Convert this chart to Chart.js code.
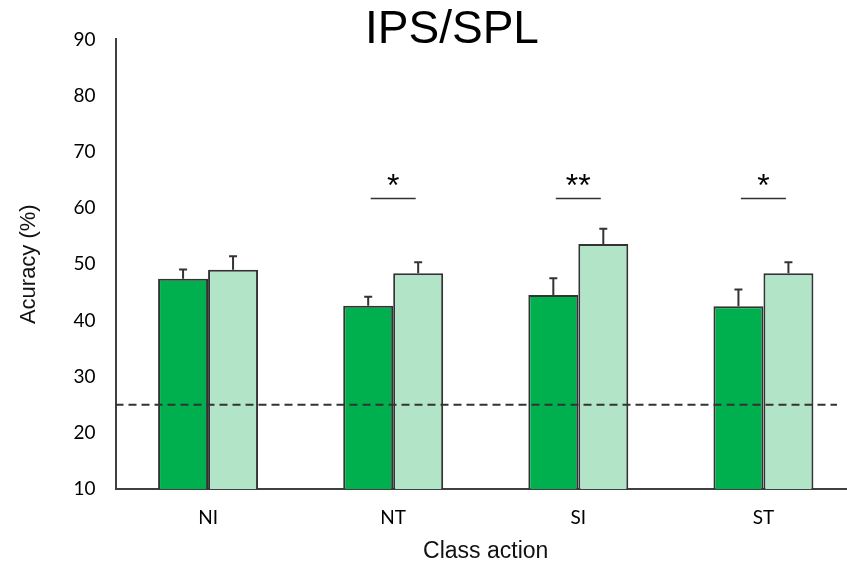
<!DOCTYPE html>
<html>
<head>
<meta charset="utf-8">
<script src="https://cdn.jsdelivr.net/npm/chart.js@4.4.1/dist/chart.umd.min.js"></script>
<style>
  html, body { margin: 0; padding: 0; background: #fff; overflow: hidden; }
  #wrap { width: 856px; height: 568px; }
</style>
</head>
<body>
<div id="wrap"><canvas id="chart" width="856" height="568"></canvas></div>
<script>
// Data
const categories = ['NI', 'NT', 'SI', 'ST'];
const darkValues = [47.4, 42.6, 44.5, 42.5];
const lightValues = [49.0, 48.4, 53.6, 48.4];
const darkErrors = [1.65, 1.6, 3.0, 3.0];
const lightErrors = [2.4, 1.95, 2.7, 1.95];
const significance = ['', '*', '**', '*'];
const sigLevel = 61.7;
const chanceLevel = 25;
const yMin = 10;
const yMax = 90;
const yStep = 10;

const DARK_GREEN = '#00b04f';
const LIGHT_GREEN = '#b2e5c8';
const INK = '#333';

// Error bars, chance line and significance marks
const annotations = {
    id: 'annotations',
    afterDatasetsDraw(chart) {
        const { ctx, chartArea, scales: { x, y } } = chart;
        const errors = [darkErrors, lightErrors];
        ctx.save();

        ctx.strokeStyle = INK;
        ctx.lineWidth = 2;
        chart.data.datasets.forEach((ds, di) => {
            const meta = chart.getDatasetMeta(di);
            meta.data.forEach((bar, i) => {
                const top = y.getPixelForValue(ds.data[i] + errors[di][i]);
                ctx.beginPath();
                ctx.moveTo(bar.x, bar.y);
                ctx.lineTo(bar.x, top);
                ctx.moveTo(bar.x - 4, top);
                ctx.lineTo(bar.x + 4, top);
                ctx.stroke();
            });
        });

        // chance level
        const cy = y.getPixelForValue(chanceLevel);
        ctx.setLineDash([8, 5]);
        ctx.strokeStyle = '#333';
        ctx.lineWidth = 2;
        ctx.beginPath();
        ctx.moveTo(chartArea.left, cy);
        ctx.lineTo(chartArea.right - 19, cy);
        ctx.stroke();
        ctx.setLineDash([]);

        // significance
        const sy = y.getPixelForValue(sigLevel);
        ctx.fillStyle = '#000';
        ctx.strokeStyle = '#333';
        ctx.lineWidth = 1.5;
        ctx.font = '32px "Liberation Sans"';
        ctx.textAlign = 'center';
        ctx.textBaseline = 'alphabetic';
        significance.forEach((mark, i) => {
            if (!mark) return;
            const cx = x.getPixelForValue(i);
            ctx.beginPath();
            ctx.moveTo(cx - 22.5, sy);
            ctx.lineTo(cx + 22.5, sy);
            ctx.stroke();
            ctx.fillText(mark, cx, sy - 2);
        });

        ctx.restore();
    }
};

new Chart(document.getElementById('chart'), {
    type: 'bar',
    data: {
        labels: categories,
        datasets: [{
            label: 'Series 1',
            data: darkValues,
            backgroundColor: DARK_GREEN,
            borderColor: INK,
            borderWidth: 2,
            categoryPercentage: 0.54,
            barPercentage: 1.0
        }, {
            label: 'Series 2',
            data: lightValues,
            backgroundColor: LIGHT_GREEN,
            borderColor: INK,
            borderWidth: 2,
            categoryPercentage: 0.54,
            barPercentage: 1.0
        }]
    },
    options: {
        responsive: false,
        animation: false,
        layout: { padding: { left: 48, right: 0, top: 0, bottom: 0 } },
        plugins: {
            legend: { display: false },
            tooltip: { enabled: false },
            title: {
                display: true,
                text: 'IPS/SPL',
                color: '#000',
                font: { family: 'Liberation Sans', size: 46, weight: 'normal', lineHeight: 0.4 },
                padding: { top: 21, bottom: 0 }
            }
        },
        scales: {
            x: {
                grid: { display: false, drawTicks: false, tickLength: 0 },
                border: { display: true, color: '#404040', width: 2 },
                ticks: { color: '#000', font: { family: 'Lato', size: 19 }, padding: 17 },
                title: {
                    display: true,
                    text: 'Class action',
                    color: '#111',
                    font: { family: 'Liberation Sans', size: 23 },
                    padding: { top: 0, bottom: 3 }
                },
                afterFit(scale) { scale.height = 79; }
            },
            y: {
                min: yMin,
                max: yMax,
                grid: { display: false, drawTicks: false, tickLength: 0 },
                border: { display: true, color: '#404040', width: 2 },
                ticks: { stepSize: yStep, color: '#000', font: { family: 'Lato', size: 19 }, padding: 20 },
                title: {
                    display: true,
                    text: 'Acuracy (%)',
                    color: '#111',
                    font: { family: 'Liberation Sans', size: 22 },
                    padding: { top: -32, bottom: 0 }
                },
                afterFit(scale) { scale.width = 67.5; }
            }
        }
    },
    plugins: [annotations]
});
</script>
</body>
</html>
